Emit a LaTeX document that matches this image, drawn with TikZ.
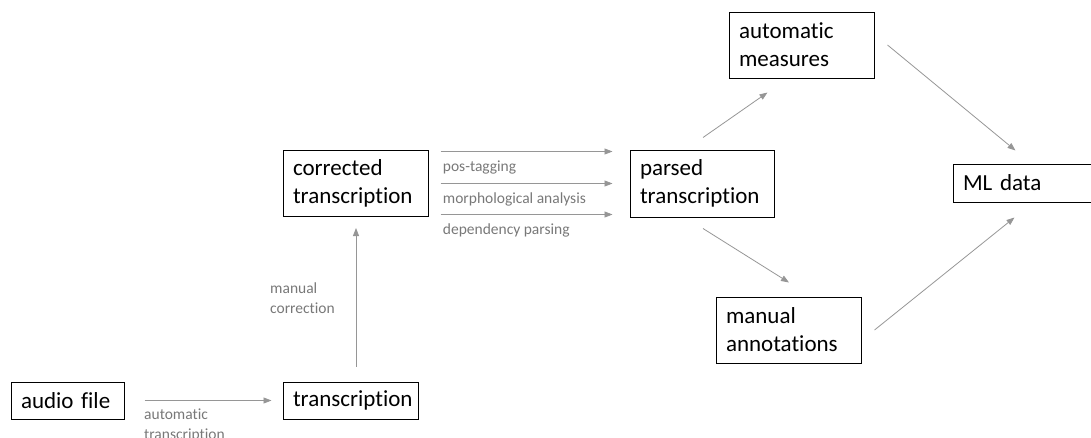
\documentclass[tikz,border=0pt]{standalone}
\usepackage{fontspec}
\setmainfont{Carlito}[Ligatures=NoCommon]
\usetikzlibrary{arrows.meta}
\definecolor{flowgray}{RGB}{150,150,150}
\definecolor{labelgray}{RGB}{120,120,120}
\tikzset{
  box/.style={draw=black,line width=1pt,align=left,inner xsep=10pt,inner ysep=0pt,font=\fontsize{23}{28}\selectfont},
  flow/.style={draw=flowgray,line width=0.8pt,-{Triangle[length=8pt,width=6pt,fill=flowgray]}},
  lbl/.style={text=labelgray,align=left,inner sep=0pt,font=\fontsize{15.5}{20}\selectfont}
}

\begin{document}
\begin{tikzpicture}[x=1pt,y=-1pt]
\useasboundingbox (0,0) rectangle (1091,437);
\clip (0,0) rectangle (1091,437);

% boxes
\node[box,text width=93pt,minimum height=37pt] (af) at (67.5,400.5) {audio file};
\node[box,text width=115pt,minimum height=37pt] (tr) at (350.5,400.5) {transcription};
\node[box,text width=125pt,minimum height=66pt] (ct) at (355.5,183.5) {corrected\\transcription};
\node[box,text width=124pt,minimum height=67pt] (pt) at (702,183.5) {parsed\\transcription};
\node[box,text width=125pt,minimum height=66pt] (am) at (801.5,45) {automatic\\measures};
\node[box,text width=125pt,minimum height=66pt] (ma) at (788.5,330) {manual\\annotations};
\node[box,text width=137pt,minimum height=38pt] (ml) at (1031.5,183) {ML data};

% transcription steps
\draw[flow] ([xshift=20pt]af.east) -- ([xshift=-11pt]tr.west);
\node[lbl,anchor=north west] (atl) at (144,409) {automatic\\transcription};
\draw[flow] ([xshift=5.5pt,yshift=15pt]tr.north) -- ([xshift=0.5pt,yshift=-11pt]ct.south);
\node[lbl,anchor=north west] (mcl) at (270,283) {manual\\correction};

% parsing steps
\foreach \dy/\txt/\nm in {32/pos-tagging/pos, 0/morphological analysis/morph, -31/dependency parsing/dep}
  \draw[flow] ([xshift=12pt,yshift=\dy pt]ct.east) -- ([xshift=-17pt,yshift=\dy pt]pt.west)
    node[lbl,pos=0,anchor=base west,xshift=2pt,yshift=-20pt] (\nm) {\txt};

% to ML data
\draw[flow] ([xshift=1pt,yshift=12pt]pt.north) -- ([xshift=-34pt,yshift=-14pt]am.south);
\draw[flow] ([xshift=13pt]am.east) -- ([xshift=63pt,yshift=13pt]ml.north west);
\draw[flow] ([xshift=1pt,yshift=-11pt]pt.south) -- ([xshift=0.5pt,yshift=14pt]ma.north);
\draw[flow] ([xshift=13pt]ma.east) -- ([xshift=62pt,yshift=-15pt]ml.south west);

\end{tikzpicture}
\end{document}
